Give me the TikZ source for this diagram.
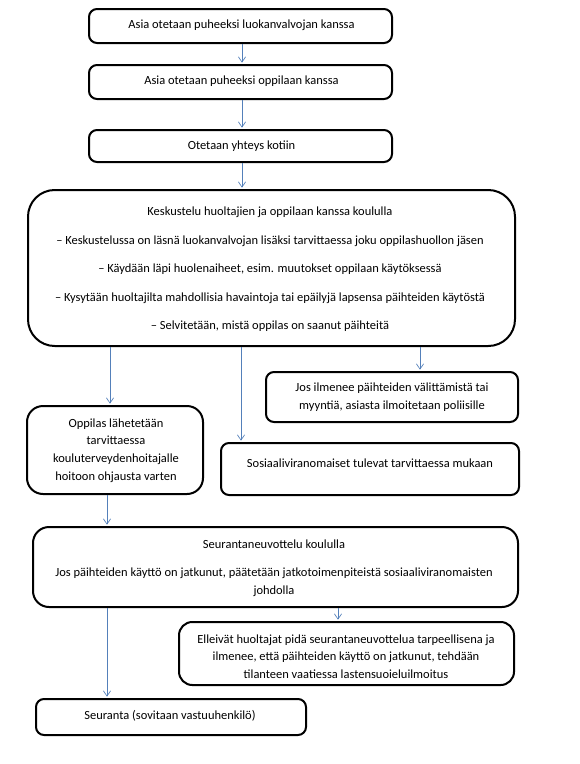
\documentclass[tikz,border=0pt]{standalone}
\usepackage{fontspec}
\setmainfont{Carlito}
\usetikzlibrary{arrows.meta}
\definecolor{arrblue}{RGB}{84,128,186}
\tikzset{
  box/.style={draw=black, line width=1.5pt, rounded corners=6pt, inner sep=0pt, fill=white},
  bigbox/.style={box, rounded corners=20pt},
  txt/.style={align=center, inner sep=0pt, font=\fontsize{9.35}{13.3}\selectfont},
  arr/.style={draw=arrblue, line width=0.6pt, shorten >=1pt, -{Straight Barb[length=4pt,width=5.5pt,line width=0.5pt]}}
}
\begin{document}
\begin{tikzpicture}[x=0.75pt,y=-0.75pt]
\useasboundingbox (0,0) rectangle (580,764);
% boxes
\node[box, minimum width=303*0.75pt, minimum height=34*0.75pt] (b1) at (240.5,26) {};
\node[box, minimum width=303*0.75pt, minimum height=34*0.75pt] (b2) at (240.5,82) {};
\node[box, minimum width=303*0.75pt, minimum height=32*0.75pt] (b3) at (240.5,146) {};
\node[bigbox, minimum width=487*0.75pt, minimum height=156*0.75pt] (b4) at (271.5,268) {};
\node[box, minimum width=176*0.75pt, minimum height=88*0.75pt, rounded corners=12pt] (b5) at (115,450) {};
\node[box, minimum width=252*0.75pt, minimum height=50*0.75pt] (b6) at (392,397) {};
\node[box, minimum width=298*0.75pt, minimum height=52*0.75pt] (b7) at (370,469) {};
\node[box, minimum width=485*0.75pt, minimum height=80*0.75pt, rounded corners=12pt] (b8) at (275.5,567) {};
\node[box, minimum width=335*0.75pt, minimum height=63*0.75pt, rounded corners=10pt] (b9) at (346.5,653.5) {};
\node[box, minimum width=270*0.75pt, minimum height=36*0.75pt] (b10) at (171,717) {};
% texts
\node[txt] (t1) at (241.5,25) {Asia otetaan puheeksi luokanvalvojan kanssa};
\node[txt] (t2) at (241.5,81) {Asia otetaan puheeksi oppilaan kanssa};
\node[txt] (t3) at (241.5,146) {Otetaan yhteys kotiin};
\node[txt] (t4) at (270,269.5) {Keskustelu huoltajien ja oppilaan kanssa koululla\\[8.1pt]
– Keskustelussa on läsnä luokanvalvojan lisäksi tarvittaessa joku oppilashuollon jäsen\\[8.1pt]
– Käydään läpi huolenaiheet, esim. muutokset oppilaan käytöksessä\\[8.1pt]
– Kysytään huoltajilta mahdollisia havaintoja tai epäilyjä lapsensa päihteiden käytöstä\\[8.1pt]
– Selvitetään, mistä oppilas on saanut päihteitä};
\node[txt] (t5) at (116,450.5) {Oppilas lähetetään\\tarvittaessa\\kouluterveydenhoitajalle\\hoitoon ohjausta varten};
\node[txt] (t6) at (392,397) {Jos ilmenee päihteiden välittämistä tai\\myyntiä, asiasta ilmoitetaan poliisille};
\node[txt] (t7) at (370,463) {Sosiaaliviranomaiset tulevat tarvittaessa mukaan};
\node[txt] (t8) at (274,568) {Seurantaneuvottelu koululla\\[8.1pt]
Jos päihteiden käyttö on jatkunut, päätetään jatkotoimenpiteistä sosiaaliviranomaisten\\johdolla};
\node[txt] (t9) at (346,656.5) {Elleivät huoltajat pidä seurantaneuvottelua tarpeellisena ja\\ilmenee, että päihteiden käyttö on jatkunut, tehdään\\tilanteen vaatiessa lastensuoieluilmoitus};
\node[txt] (t10) at (170,716) {Seuranta (sovitaan vastuuhenkilö)};
% x positions of connectors
\coordinate (xa) at (242,0);
\coordinate (xb) at (110,0);
\coordinate (xc) at (241,0);
\coordinate (xd) at (420,0);
\coordinate (xe) at (107,0);
\coordinate (xf) at (338,0);
% connectors
\draw[arr] (b1.south -| xa) -- (b2.north -| xa);
\draw[arr] (b2.south -| xa) -- (b3.north -| xa);
\draw[arr] (b3.south -| xa) -- (b4.north -| xa);
\draw[arr] (b4.south -| xb) -- (b5.north -| xb);
\draw[arr] (b4.south -| xc) -- (b7.north -| xc);
\draw[arr] (b4.south -| xd) -- (b6.north -| xd);
\draw[arr] (b5.south -| xe) -- (b8.north -| xe);
\draw[arr] (b8.south -| xe) -- (b10.north -| xe);
\draw[arr] (b8.south -| xf) -- (b9.north -| xf);
\end{tikzpicture}
\end{document}
